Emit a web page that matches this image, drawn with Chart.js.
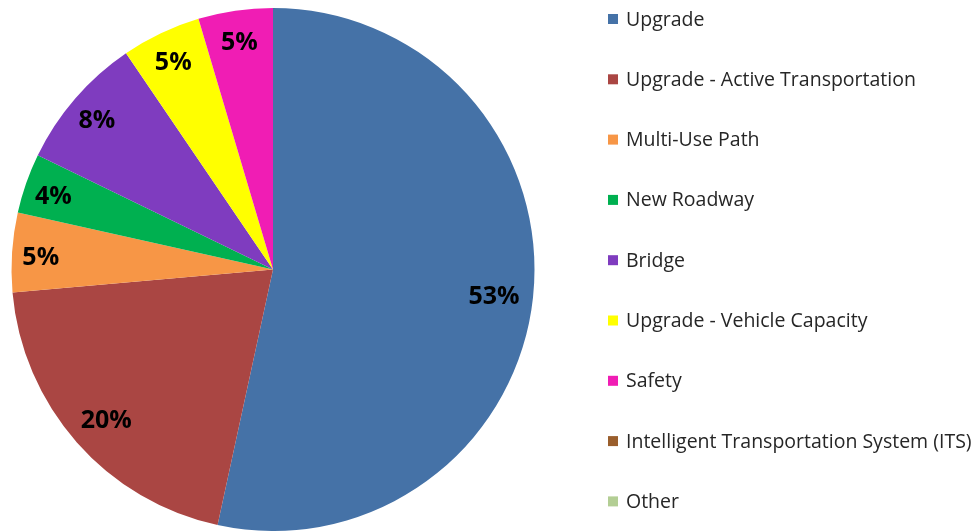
<!DOCTYPE html>
<html>
<head>
<meta charset="utf-8">
<script src="https://cdn.jsdelivr.net/npm/chart.js@4"></script>
<style>
  html, body { margin: 0; padding: 0; background: #fff; }
  #wrap { width: 975px; height: 531px; }
</style>
</head>
<body>
<div id="wrap"><canvas id="projChart" width="975" height="531"></canvas></div>
<script>
// Share of projects by type
const labels = ['Upgrade', 'Upgrade - Active Transportation', 'Multi-Use Path', 'New Roadway',
  'Bridge', 'Upgrade - Vehicle Capacity', 'Safety', 'Intelligent Transportation System (ITS)', 'Other'];
const shares = [53.4, 20.2, 4.9, 3.7, 8.3, 4.9, 4.6, 0, 0];
const colors = ['#4572A7', '#AA4643', '#F79646', '#00B050', '#7F3CBF', '#FFFF00', '#F01DB4', '#9A5E2C', '#B3CE94'];

// percentage labels inside the slices
const sliceLabels = {
  id: 'sliceLabels',
  afterDatasetsDraw(chart) {
    const ctx = chart.ctx;
    const meta = chart.getDatasetMeta(0);
    ctx.save();
    ctx.font = 'bold 25px "Open Sans"';
    ctx.fillStyle = '#000';
    ctx.textAlign = 'center';
    ctx.textBaseline = 'middle';
    meta.data.forEach((arc, i) => {
      if (!shares[i]) return;
      const mid = (arc.startAngle + arc.endAngle) / 2;
      const r = arc.outerRadius * (i < 2 ? 0.85 : 0.89);
      ctx.fillText(Math.round(shares[i]) + '%', arc.x + Math.cos(mid) * r, arc.y + Math.sin(mid) * r + 4);
    });
    ctx.restore();
  }
};

// legend on the right, one row every ~60px
const sideLegend = {
  id: 'sideLegend',
  afterDraw(chart) {
    const ctx = chart.ctx;
    ctx.save();
    ctx.font = '19.5px "Open Sans"';
    ctx.textBaseline = 'middle';
    labels.forEach((name, i) => {
      const y = 19 + i * 60.3;
      ctx.fillStyle = colors[i];
      ctx.fillRect(608, y - 5, 10, 10);
      ctx.fillStyle = '#262626';
      ctx.fillText(name, 626, y + 1);
    });
    ctx.restore();
  }
};

const ctx = document.getElementById('projChart').getContext('2d');
const projChart = new Chart(ctx, {
  type: 'pie',
  data: {
    labels: labels,
    datasets: [{
      data: shares,
      backgroundColor: colors,
      borderWidth: 0
    }]
  },
  options: {
    responsive: false,
    animation: false,
    layout: { padding: { left: 11, right: 440, top: 8, bottom: 0 } },
    plugins: {
      legend: { display: false },
      tooltip: { enabled: false }
    }
  },
  plugins: [sliceLabels, sideLegend]
});
</script>
</body>
</html>
